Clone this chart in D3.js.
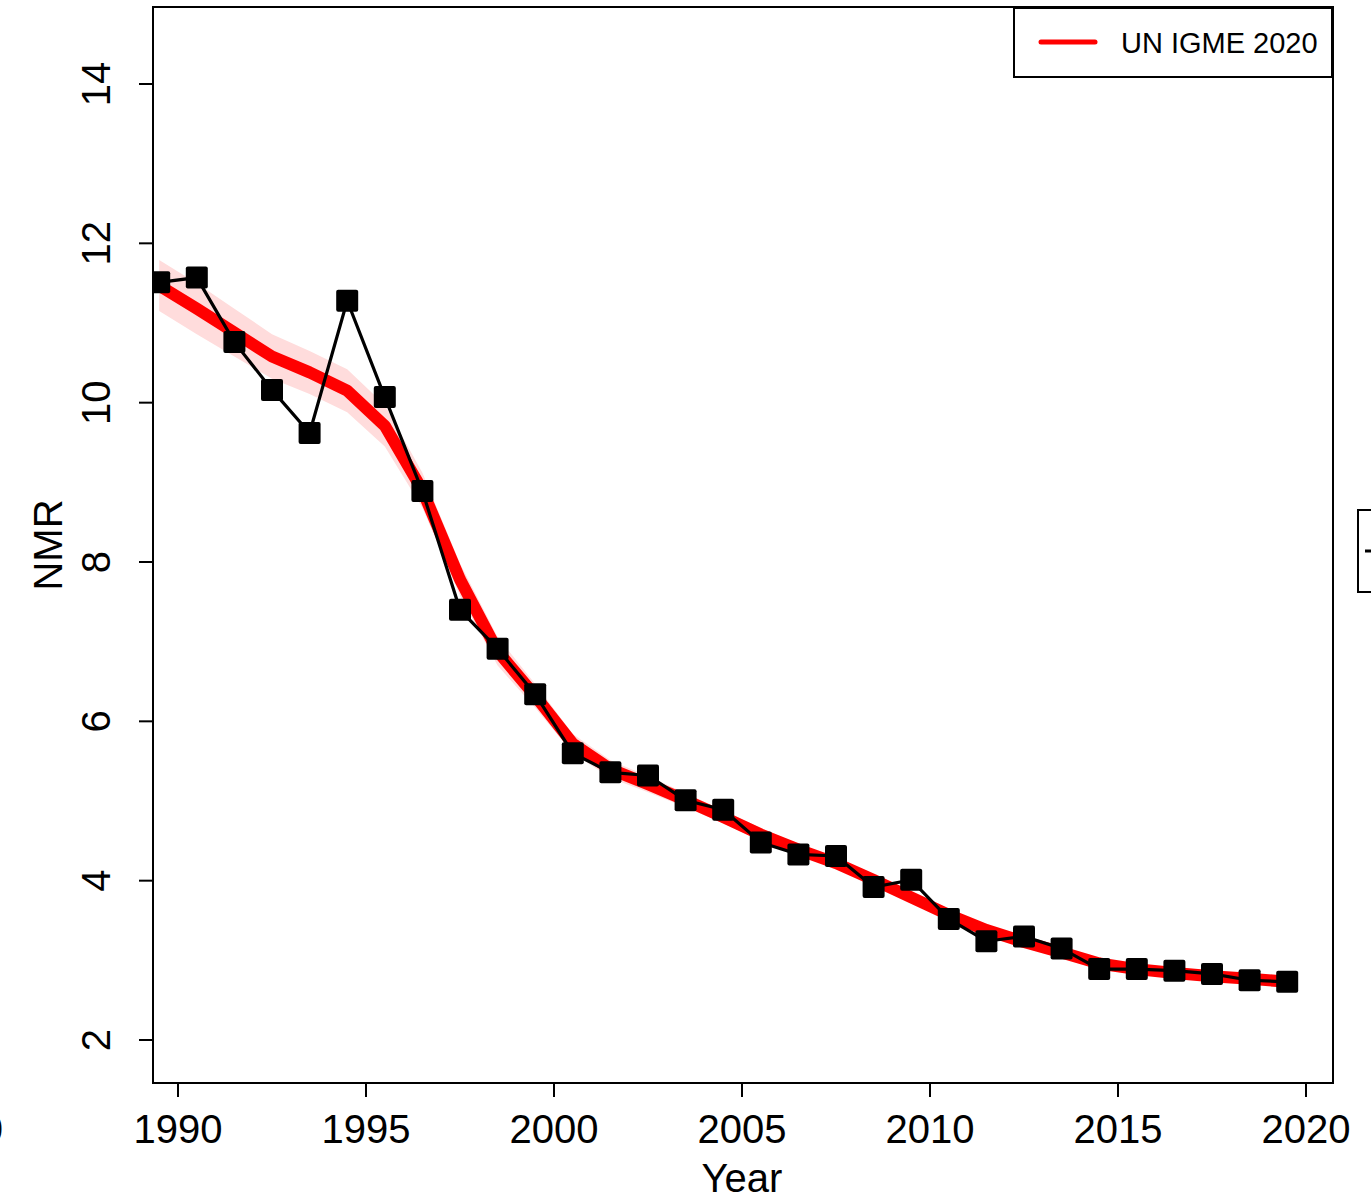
<!DOCTYPE html>
<html><head><meta charset="utf-8">
<script src="https://cdn.jsdelivr.net/npm/d3@7"></script>
<style>body{margin:0;background:#fff}svg{display:block}text{font-family:"Liberation Sans",Arial,Helvetica,sans-serif}</style>
</head><body>
<script>
const years = d3.range(1989.5, 2020, 1);
const observed = [11.51,11.57,10.76,10.16,9.62,11.28,10.07,8.89,7.40,6.91,6.34,5.60,5.36,5.32,5.01,4.89,4.48,4.33,4.31,3.92,4.01,3.52,3.24,3.30,3.15,2.89,2.89,2.87,2.83,2.75,2.73];
const estimate = [11.47,11.18,10.88,10.58,10.38,10.15,9.71,8.90,7.78,6.88,6.32,5.72,5.40,5.21,5.01,4.80,4.58,4.39,4.22,4.01,3.79,3.57,3.38,3.23,3.10,2.96,2.89,2.84,2.80,2.77,2.73];
const lower = [11.15,10.86,10.58,10.30,10.11,9.88,9.45,8.68,7.58,6.70,6.17,5.60,5.29,5.11,4.92,4.72,4.50,4.32,4.15,3.94,3.73,3.51,3.33,3.18,3.05,2.92,2.85,2.80,2.76,2.73,2.69];
const upper = [11.79,11.50,11.18,10.86,10.65,10.42,9.97,9.12,7.98,7.06,6.47,5.84,5.51,5.31,5.10,4.88,4.66,4.46,4.29,4.08,3.85,3.63,3.43,3.28,3.15,3.00,2.93,2.88,2.84,2.81,2.77];
const xTicks = [1990,1995,2000,2005,2010,2015,2020];
const yTicks = [2,4,6,8,10,12,14];
const legendLabel = "UN IGME 2020";

const W=1371,H=1203;
const L=153,R=1333,T=7,B=1083;
const svg=d3.select("body").append("svg").attr("width",W).attr("height",H);
const x=d3.scaleLinear().domain([1990,2020]).range([178,1306]);
const y=d3.scaleLinear().domain([2,14]).range([1040,84]);

const g=svg.append("g");
g.append("clipPath").attr("id","clip").append("rect").attr("x",L).attr("y",T).attr("width",R-L).attr("height",B-T);
const pl=g.append("g").attr("clip-path","url(#clip)");
const band=years.map((yr,i)=>({yr,lo:lower[i],hi:upper[i]}));
pl.append("path").datum(band).attr("fill","#ffdcdc")
  .attr("d",d3.area().x(d=>x(d.yr)).y0(d=>y(d.lo)).y1(d=>y(d.hi)));
pl.append("path").datum(years.map((yr,i)=>[yr,estimate[i]])).attr("fill","none").attr("stroke","#ff0000")
  .attr("stroke-width",12).attr("stroke-linejoin","round")
  .attr("d",d3.line().x(d=>x(d[0])).y(d=>y(d[1])));
const obs=years.map((yr,i)=>[yr,observed[i]]);
pl.append("path").datum(obs).attr("fill","none").attr("stroke","#000").attr("stroke-width",3.2)
  .attr("d",d3.line().x(d=>x(d[0])).y(d=>y(d[1])));
pl.selectAll("rect.pt").data(obs).join("rect").attr("class","pt")
  .attr("x",d=>x(d[0])-11).attr("y",d=>y(d[1])-11).attr("width",22).attr("height",22).attr("rx",2).attr("fill","#000");

// frame
g.append("rect").attr("x",L).attr("y",T).attr("width",R-L).attr("height",B-T).attr("fill","none").attr("stroke","#000").attr("stroke-width",2);

// x axis
const xa=g.append("g");
xa.selectAll("line").data(xTicks).join("line").attr("x1",d=>x(d)).attr("x2",d=>x(d)).attr("y1",B).attr("y2",B+14).attr("stroke","#000").attr("stroke-width",2);
xa.selectAll("text").data(xTicks).join("text").attr("x",d=>x(d)).attr("y",1143).attr("text-anchor","middle").attr("font-size",40).text(d=>d);
g.append("text").attr("x",742).attr("y",1192).attr("text-anchor","middle").attr("font-size",40).text("Year");

// y axis
const ya=g.append("g");
ya.selectAll("line").data(yTicks).join("line").attr("x1",L-14).attr("x2",L).attr("y1",d=>y(d)).attr("y2",d=>y(d)).attr("stroke","#000").attr("stroke-width",2);
ya.selectAll("text").data(yTicks).join("text").attr("transform",d=>`translate(110,${y(d)}) rotate(-90)`).attr("text-anchor","middle").attr("font-size",40).text(d=>d);
g.append("text").attr("transform","translate(62,545) rotate(-90)").attr("text-anchor","middle").attr("font-size",40).text("NMR");

// legend
g.append("rect").attr("x",1014).attr("y",8).attr("width",318).attr("height",69).attr("fill","#fff").attr("stroke","#000").attr("stroke-width",2);
g.append("line").attr("x1",1041).attr("x2",1095).attr("y1",42).attr("y2",42).attr("stroke","#ff0000").attr("stroke-width",5).attr("stroke-linecap","round");
g.append("text").attr("x",1121).attr("y",53).attr("font-size",29).text(legendLabel);

// cropped neighbouring elements
g.append("rect").attr("x",1358).attr("y",510).attr("width",40).attr("height",82).attr("fill","none").attr("stroke","#000").attr("stroke-width",2);
g.append("line").attr("x1",1365).attr("x2",1380).attr("y1",551).attr("y2",551).attr("stroke","#000").attr("stroke-width",3);
g.append("text").attr("x",3).attr("y",1143).attr("text-anchor","end").attr("font-size",40).text("0");
</script>
</body></html>
